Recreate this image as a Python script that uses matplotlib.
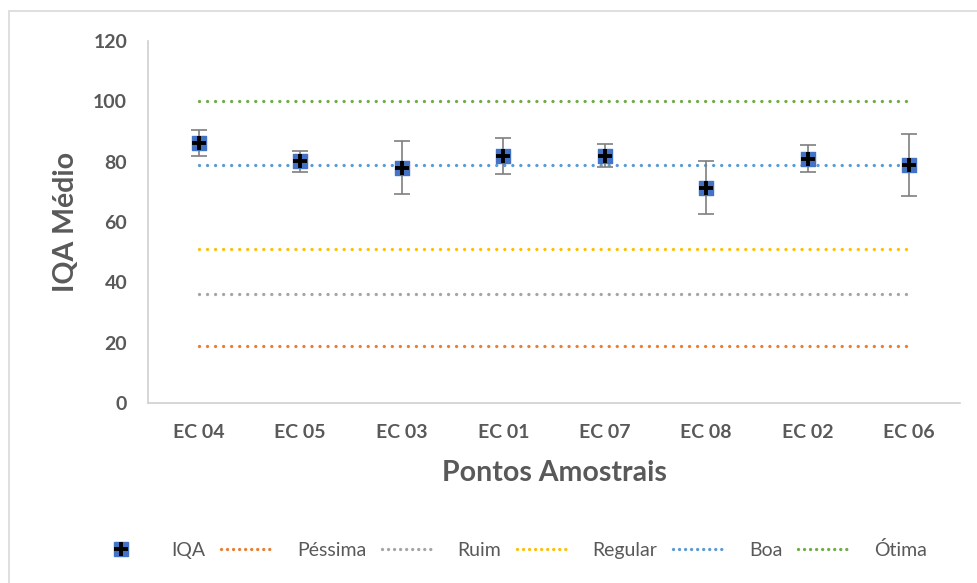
import matplotlib.pyplot as plt
from matplotlib.legend_handler import HandlerTuple
from matplotlib.lines import Line2D
from matplotlib.patches import Rectangle

plt.rcParams['font.family'] = ['Lato', 'DejaVu Sans']

pontos = ['EC 04', 'EC 05', 'EC 03', 'EC 01', 'EC 07', 'EC 08', 'EC 02', 'EC 06']
iqa = [86.1, 80.1, 78.0, 82.0, 81.9, 71.3, 81.0, 78.9]
iqa_err = [4.3, 3.6, 8.7, 6.0, 3.8, 8.8, 4.5, 10.4]

classes = ['Péssima', 'Ruim', 'Regular', 'Boa', 'Ótima']
limites = [19, 36, 51, 79, 100]
cores = ['#ED7D31', '#A5A5A5', '#FFC000', '#5B9BD5', '#70AD47']

cinza = '#595959'

fig = plt.figure(figsize=(9.77, 5.83), dpi=100)
# moldura do grafico (cortada a direita e embaixo)
fig.patches.append(Rectangle((9 / 977, -0.1), 2.0, (583 - 11) / 583 + 0.1,
                             transform=fig.transFigure, fill=False,
                             edgecolor='#D9D9D9', linewidth=1.2))
ax = fig.add_axes([148 / 977, 180 / 583, 812 / 977, 362 / 583])

x = list(range(len(pontos)))

for nome, val, cor in zip(classes, limites, cores):
    ax.plot([x[0], x[-1]], [val, val], color=cor, linestyle=(0, (0.01, 2.4)),
            linewidth=2.4, dash_capstyle='round', label=nome)

ax.errorbar(x, iqa, yerr=iqa_err, fmt='none', ecolor='#7F7F7F',
            elinewidth=1.2, capsize=6, capthick=1.2, zorder=3)
ax.scatter(x, iqa, marker='s', s=95, color='#4472C4', zorder=4)
ax.scatter(x, iqa, marker='+', s=110, color='black', linewidths=2.8, zorder=5)

ax.set_xlim(-0.5, len(pontos) - 0.5)
ax.set_ylim(0, 120)
ax.set_yticks(range(0, 121, 20))
ax.set_xticks(x)
ax.set_xticklabels(pontos)
ax.tick_params(length=0, labelsize=14, labelcolor=cinza)
ax.tick_params(axis='x', pad=15)
ax.tick_params(axis='y', pad=15)
for lbl in ax.get_xticklabels() + ax.get_yticklabels():
    lbl.set_fontweight('bold')

for s in ['top', 'right']:
    ax.spines[s].set_visible(False)
for s in ['left', 'bottom']:
    ax.spines[s].set_color('#D0D0D0')
    ax.spines[s].set_linewidth(1.2)

ax.set_xlabel('Pontos Amostrais', fontsize=20.5, fontweight='bold', color=cinza, labelpad=14)
ax.set_ylabel('IQA Médio', fontsize=20.5, fontweight='bold', color=cinza, labelpad=10)

h_iqa = (Line2D([], [], marker='s', markersize=9.5, color='#4472C4', linestyle='none'),
         Line2D([], [], marker='+', markersize=10, markeredgewidth=2.8, color='black', linestyle='none'))
# entradas de linha da legenda com pontos mais juntos
h_linhas = [Line2D([], [], color=c, linestyle=(0, (0.01, 1.8)), linewidth=2.4,
                   dash_capstyle='round') for c in cores]
handles = [h_iqa] + h_linhas
labels = ['IQA'] + classes
fig.legend(handles, labels, handler_map={tuple: HandlerTuple(ndivide=1)},
           loc='center', bbox_to_anchor=(511 / 977, 1 - 550 / 583), ncol=6,
           frameon=False, fontsize=14, labelcolor=cinza, handlelength=2.6,
           columnspacing=0.8, handletextpad=1.3)

fig.savefig('out.png', dpi=100)
